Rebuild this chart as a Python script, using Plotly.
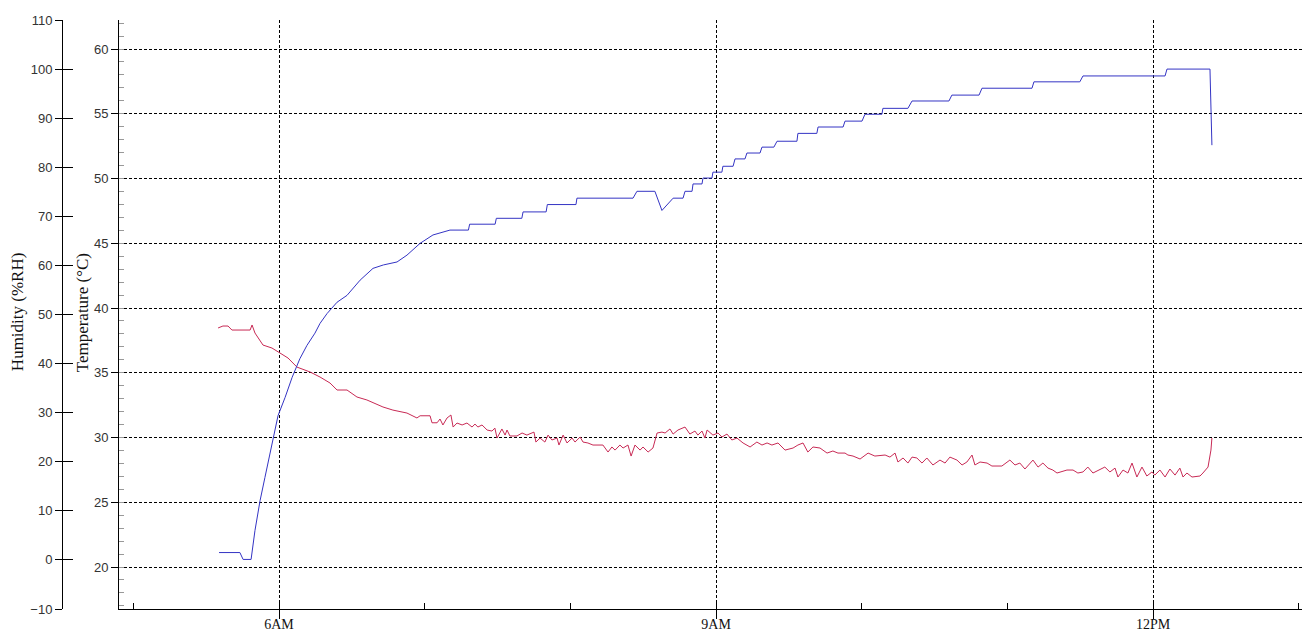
import plotly.graph_objects as go
from datetime import datetime, timedelta

# ---- data (minutes after midnight, values) ----
hum_minutes = [335.3, 343.9, 345.2, 348.5, 350.1, 352.2, 354.2, 357.1, 359.6, 362.5, 365.4, 368.6,
               371.5, 374.8, 376.9, 379.8, 383.9, 388.0, 393.4, 398.7, 403.0, 408.6, 412.7, 418.1, 423.4,
               430.4, 438.0, 438.5, 449.0, 449.5, 460.0, 460.5, 470.0, 470.5, 482.3, 482.7, 505.8,
               507.4, 514.8, 517.7, 519.8, 522.3, 526.4, 527.2, 530.1, 530.5, 534.2, 534.6, 538.3,
               538.7, 542.4, 542.8, 547.0, 547.8, 551.9, 552.7, 558.1, 558.9, 563.8, 565.1, 573.3,
               573.7, 581.5, 582.0, 592.3, 593.1, 600.1, 601.3, 608.3, 608.7, 619.0, 620.7, 635.9,
               637.1, 648.3, 649.5, 670.1, 670.9, 689.8, 691.1, 724.9, 725.7, 743.4, 743.8, 744.2]
humidity = [1.5, 1.5, 0.1, 0.1, 6.0, 12.1, 16.8, 23.7, 29.4, 33.1, 37.2, 41.0,
            43.7, 46.2, 48.2, 50.2, 52.5, 53.9, 57.0, 59.4, 60.1, 60.7, 62.1, 64.5, 66.2,
            67.2, 67.2, 68.4, 68.4, 69.6, 69.6, 70.9, 70.9, 72.4, 72.4, 73.7, 73.7,
            75.1, 75.1, 71.2, 72.4, 73.7, 73.7, 75.1, 75.1, 76.6, 76.6, 77.8, 77.8,
            79.0, 79.0, 80.2, 80.2, 81.7, 81.7, 82.9, 82.9, 84.1, 84.1, 85.3, 85.3,
            86.9, 86.9, 88.2, 88.2, 89.4, 89.4, 90.8, 90.8, 92.0, 92.0, 93.5, 93.5,
            94.7, 94.7, 96.1, 96.1, 97.4, 97.4, 98.6, 98.6, 100.0, 100.0, 93.7, 84.5]

temp_minutes = [334.9, 336.9, 339.0, 340.6, 348.1, 348.9, 350.1, 353.4, 357.1, 360.4, 363.7, 367.4,
                372.8, 376.9, 381.0, 383.9, 388.0, 392.1, 396.2, 402.8, 406.9, 412.7, 416.8,
                418.1, 422.2, 423.0, 425.1, 426.3, 427.5, 429.2, 430.8, 431.7, 433.3, 435.4, 437.4,
                439.5, 440.7, 441.9, 443.6, 445.7, 447.7, 448.9, 449.8, 451.8, 453.1, 453.9, 455.1,
                458.0, 460.1, 462.1, 465.0, 465.8, 467.5, 469.5, 470.8, 472.4, 474.5, 475.3, 477.0,
                478.6, 480.7, 481.9, 484.0, 485.2, 487.2, 489.3, 493.4, 495.5, 497.1, 498.4, 500.4,
                501.7, 503.7, 505.0, 506.6, 508.7, 509.9, 512.0, 514.0, 515.7, 517.7, 519.0, 521.0,
                522.3, 524.3, 527.2, 529.2, 531.3, 532.5, 534.2, 535.4, 536.3, 538.7, 540.8, 542.4,
                544.5, 546.5, 548.6, 551.1, 554.0, 556.8, 558.9, 561.0, 563.0, 565.5, 568.4, 571.7,
                573.7, 575.8, 577.8, 579.9, 582.8,
                585.7, 588.1, 590.2, 593.1, 594.3, 596.4, 599.3, 602.6, 605.4, 609.6, 611.6, 613.7,
                614.9, 617.0, 619.0, 620.7, 622.7, 624.8, 626.8, 629.3, 632.2, 634.3, 636.3, 639.2,
                641.3, 643.3, 645.4, 646.6, 648.7, 651.6, 653.6, 657.7, 661.0, 663.1, 665.1, 667.2,
                669.3, 670.5, 672.6, 674.6, 676.7, 678.7, 680.4, 684.5, 687.0, 689.0, 691.1, 693.1,
                695.2, 698.1, 700.1, 702.2, 704.3, 705.5, 707.6, 709.6, 711.3, 713.3, 715.4, 717.4,
                719.5, 720.7, 722.8, 724.9, 726.9, 729.0, 731.0, 732.3, 733.9, 736.0, 739.3, 740.5,
                742.6, 743.8, 744.2]
temperature = [38.46, 38.61, 38.61, 38.30, 38.30, 38.69, 38.07, 37.14, 36.91, 36.53, 36.14, 35.44,
               35.06, 34.67, 34.21, 33.67, 33.67, 33.13, 32.90, 32.36, 32.12, 31.89, 31.51,
               31.68, 31.68, 31.14, 31.14, 31.43, 30.97, 31.51, 31.74, 30.81, 31.12, 30.97, 31.12,
               30.81, 31.04, 30.81, 30.97, 30.58, 30.50, 30.73, 29.96, 30.66, 30.19, 30.58, 30.12,
               30.12, 30.35, 30.19, 30.42, 29.65, 29.96, 29.65, 30.19, 29.81, 29.96, 29.42, 30.19,
               29.58, 29.96, 29.65, 30.04, 29.65, 29.58, 29.42, 29.42, 28.88, 29.27, 29.03, 29.42,
               29.19, 29.42, 28.57, 29.42, 29.03, 29.27, 28.88, 29.19, 30.35, 30.42, 30.35, 30.66,
               30.27, 30.58, 30.81, 30.27, 30.50, 30.19, 30.50, 29.96, 30.58, 30.19, 30.35, 30.04,
               30.27, 29.81, 29.96, 29.58, 29.27, 29.65, 29.42, 29.58, 29.42, 29.58, 29.03, 29.19,
               29.42, 29.58, 28.88, 29.27, 29.19,
               28.80, 28.96, 28.80, 28.80, 28.65, 28.57, 28.34, 28.80, 28.57, 28.65, 28.49, 28.80,
               28.11, 28.42, 28.03, 28.49, 28.42, 28.03, 28.42, 27.88, 28.26, 28.03, 28.49, 28.26,
               27.88, 28.11, 28.65, 27.88, 28.11, 28.03, 27.80, 27.80, 28.26, 27.88, 28.03, 27.57,
               28.03, 28.26, 27.72, 28.03, 27.64, 27.49, 27.26, 27.49, 27.49, 27.26, 27.34, 27.72,
               27.26, 27.57, 27.72, 27.34, 27.64, 26.95, 27.49, 27.26, 28.03, 26.95, 27.72, 27.03,
               27.34, 27.10, 27.49, 26.95, 27.57, 27.10, 27.64, 26.95, 27.26, 26.95, 27.03, 27.26,
               27.72, 29.03, 29.96]

x_tick_hours = [6, 9, 12]
x_tick_labels = ["6AM", "9AM", "12PM"]
temp_ticks = [20, 25, 30, 35, 40, 45, 50, 55, 60]
hum_ticks = [-10, 0, 10, 20, 30, 40, 50, 60, 70, 80, 90, 100, 110]

base = datetime(2024, 1, 1)
def tm(m):
    return base + timedelta(minutes=m)

W, H = 1302, 634
x_left_px, hum_axis_px = 119, 62

fig = go.Figure()
fig.add_trace(go.Scatter(x=[tm(m) for m in temp_minutes], y=temperature, mode="lines",
                         line=dict(color="#c82a55", width=1), yaxis="y", showlegend=False))
fig.add_trace(go.Scatter(x=[tm(m) for m in hum_minutes], y=humidity, mode="lines",
                         line=dict(color="#3434c4", width=1), yaxis="y2", showlegend=False))

dash = "3px,2px"
fig.update_layout(
    width=W, height=H,
    margin=dict(l=0, r=0, t=20, b=25, autoexpand=False),
    paper_bgcolor="white", plot_bgcolor="white",
    xaxis=dict(
        domain=[x_left_px / W, 1],
        range=[tm(294.1), tm(781.3)],
        type="date", automargin=False,
        tickmode="array",
        tickvals=[tm(h * 60) for h in x_tick_hours],
        ticktext=x_tick_labels,
        ticks="outside", ticklen=9, tickcolor="black", tickwidth=1,
        ticklabelstandoff=-7,
        showline=True, linecolor="black", linewidth=1,
        showgrid=True, gridcolor="black", gridwidth=1, griddash=dash,
        zeroline=False,
        tickfont=dict(family="Liberation Serif", size=14, color="#111"),
        minor=dict(tick0=tm(0), dtick=3600000, ticks="inside", ticklen=6,
                   tickcolor="black", showgrid=False),
    ),
    yaxis=dict(
        range=[16.76, 62.24], automargin=False,
        tickmode="array", tickvals=temp_ticks,
        ticks="outside", ticklen=7, tickcolor="black",
        showline=True, linecolor="black", linewidth=1,
        showgrid=True, gridcolor="black", gridwidth=1, griddash=dash,
        zeroline=False,
        tickfont=dict(family="Liberation Sans", size=13, color="#333"),
        minor=dict(dtick=1, tick0=0, ticks="inside", ticklen=5, tickcolor="#999", showgrid=False),
    ),
    yaxis2=dict(
        range=[-10, 110], automargin=False,
        overlaying="y", anchor="free", position=hum_axis_px / W, side="left",
        tickmode="array", tickvals=hum_ticks,
        ticks="outside", ticklen=7, tickcolor="black", tickwidth=1,
        showline=True, linecolor="black", linewidth=1,
        showgrid=False, zeroline=False,
        tickfont=dict(family="Liberation Sans", size=13, color="#333"),
    ),
    yaxis3=dict(
        range=[-10, 110], automargin=False,
        overlaying="y", anchor="free", position=hum_axis_px / W, side="left",
        tickmode="array", tickvals=hum_ticks[1:], showticklabels=False,
        ticks="inside", ticklen=10, tickcolor="black", tickwidth=1,
        showline=False, showgrid=False, zeroline=False,
    ),
    annotations=[
        dict(text="Humidity (%RH)", x=17 / W, y=0.504, xref="paper", yref="paper",
             textangle=-90, showarrow=False, xanchor="center", yanchor="middle",
             font=dict(family="Liberation Serif", size=17, color="#111")),
        dict(text="Temperature (°C)", x=82 / W, y=0.502, xref="paper", yref="paper",
             textangle=-90, showarrow=False, xanchor="center", yanchor="middle",
             font=dict(family="Liberation Serif", size=17, color="#111")),
    ],
)
# invisible trace to make yaxis3 render
fig.add_trace(go.Scatter(x=[tm(300)], y=[0], yaxis="y3", mode="markers",
                         marker=dict(opacity=0), showlegend=False, hoverinfo="skip"))

fig.write_html("out.html")
